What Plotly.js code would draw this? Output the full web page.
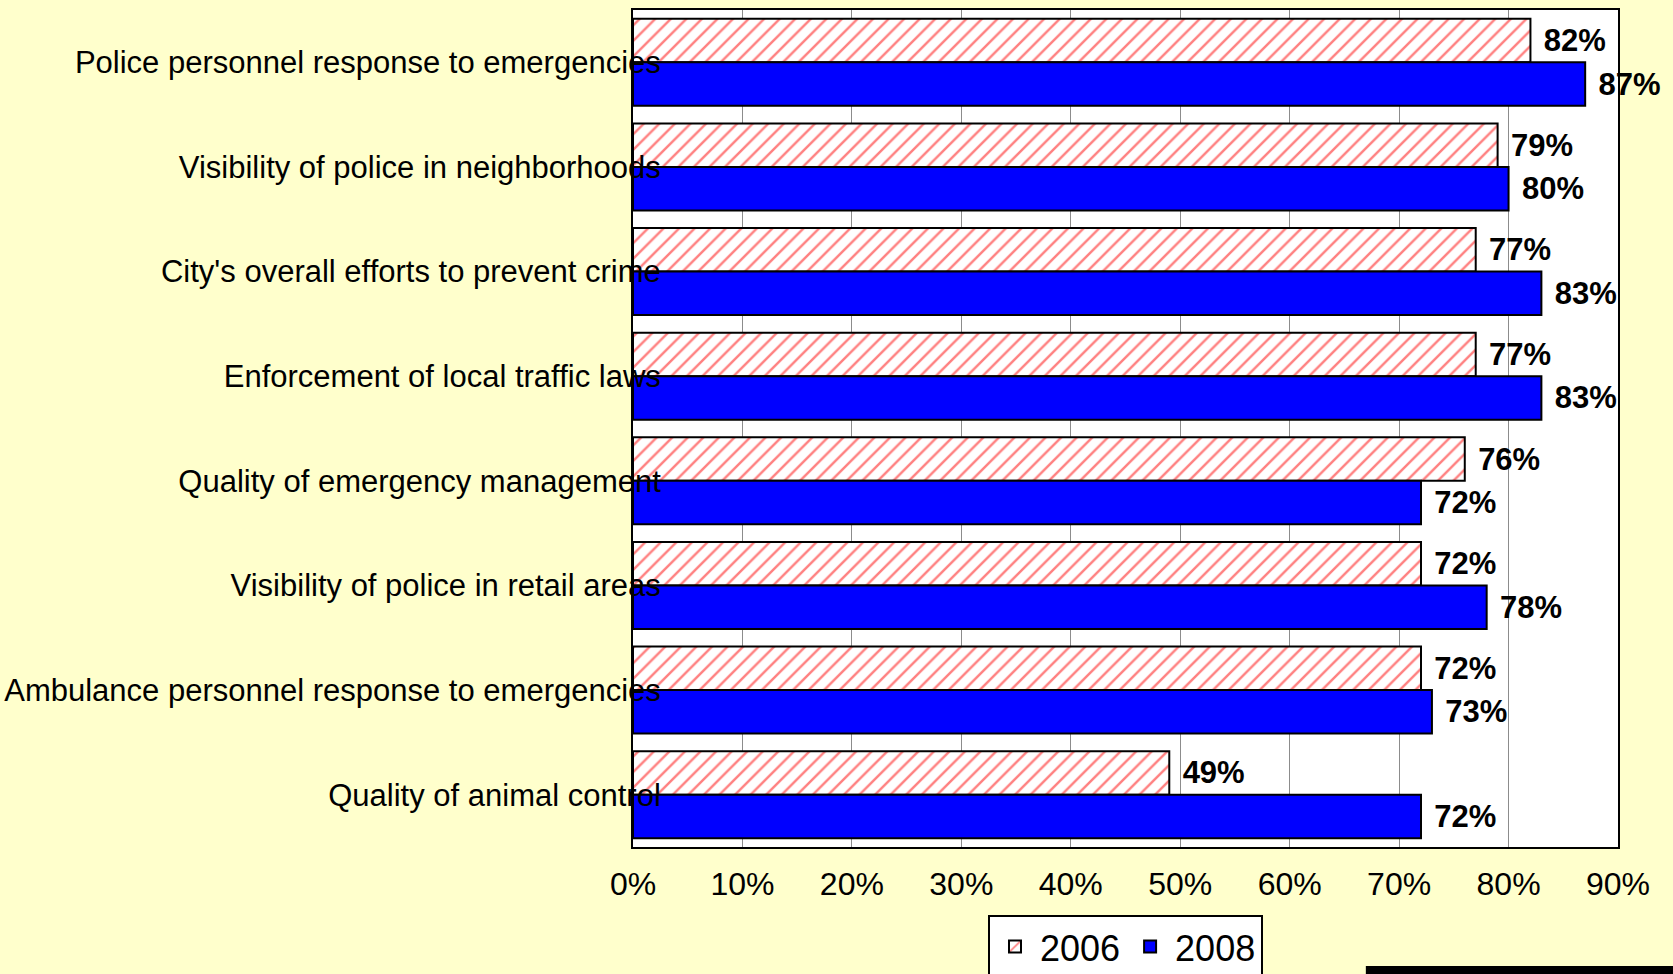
<!DOCTYPE html>
<html>
<head>
<meta charset="utf-8">
<script src="https://cdn.plot.ly/plotly-3.0.1.min.js"></script>
<style>html,body{margin:0;padding:0;background:#FFFFCC;overflow:hidden;}</style>
</head>
<body>
<div id="chart" style="width:1673px;height:974px;"></div>
<script>
const categories = [
  "Police personnel response to emergencies",
  "Visibility of police in neighborhoods",
  "City's overall efforts to prevent crime",
  "Enforcement of local traffic laws",
  "Quality of emergency management",
  "Visibility of police in retail areas",
  "Ambulance personnel response to emergencies",
  "Quality of animal control"
];
const values2006 = [82, 79, 77, 77, 76, 72, 72, 49];
const values2008 = [87, 80, 83, 83, 72, 78, 73, 72];
const seriesNames = ["2006", "2008"];
const xTickVals = [0, 10, 20, 30, 40, 50, 60, 70, 80, 90];
const xTickText = ["0%", "10%", "20%", "30%", "40%", "50%", "60%", "70%", "80%", "90%"];

const font = "'Liberation Sans', Arial, sans-serif";
const pct = v => v + '%';

const t2006 = {
  type: 'bar', orientation: 'h', name: seriesNames[0],
  y: categories, x: values2006, text: values2006.map(pct),
  marker: {
    color: '#FFFFFF',
    line: {color: '#000000', width: 2},
    pattern: {shape: '/', fgcolor: '#FF8080', bgcolor: '#FFFFFF', size: 11, solidity: 0.22}
  },
  texttemplate: '\u2004%{text}', textposition: 'outside', cliponaxis: false, constraintext: 'none',
  textfont: {family: font, size: 31, color: '#000000', weight: 'bold'},
  hoverinfo: 'skip'
};
const t2008 = {
  type: 'bar', orientation: 'h', name: seriesNames[1],
  y: categories, x: values2008, text: values2008.map(pct),
  marker: {color: '#0000FF', line: {color: '#000000', width: 2}},
  texttemplate: '\u2004%{text}', textposition: 'outside', cliponaxis: false, constraintext: 'none',
  textfont: {family: font, size: 31, color: '#000000', weight: 'bold'},
  hoverinfo: 'skip'
};

const layout = {
  width: 1673, height: 974,
  paper_bgcolor: '#FFFFCC', plot_bgcolor: '#FFFFFF',
  margin: {l: 633, r: 55, t: 10, b: 127, pad: 0, autoexpand: false},
  barmode: 'group', bargap: 0.168, bargroupgap: 0,
  showlegend: true,
  legend: {
    orientation: 'h', xref: 'paper', x: 0.5, xanchor: 'center',
    yref: 'container', y: 0.061, yanchor: 'top',
    bgcolor: '#FFFFFF', bordercolor: '#000000', borderwidth: 2,
    font: {family: font, size: 36, color: '#000000'},
    traceorder: 'normal', itemwidth: 40
  },
  xaxis: {
    range: [0, 90], tickvals: xTickVals, ticktext: xTickText,
    showgrid: true, gridcolor: '#8C8C8C', gridwidth: 1,
    showline: true, linecolor: '#000000', linewidth: 2, mirror: true,
    ticks: '', zeroline: false, ticklabelstandoff: 8,
    tickfont: {family: font, size: 32, color: '#000000'}
  },
  yaxis: {
    autorange: 'reversed', type: 'category',
    showline: true, linecolor: '#000000', linewidth: 2, mirror: true,
    ticks: '', showgrid: false, ticklabelstandoff: -36,
    tickfont: {family: font, size: 31, color: '#000000'}
  },
  shapes: [{
    type: 'rect', xref: 'paper', yref: 'paper',
    x0: 0.744, x1: 1.06, y0: -0.1422, y1: -0.2,
    fillcolor: '#000000', line: {width: 0}, layer: 'above'
  }]
};

Plotly.newPlot('chart', [t2006, t2008], layout, {displayModeBar: false, staticPlot: true});
</script>
</body>
</html>
